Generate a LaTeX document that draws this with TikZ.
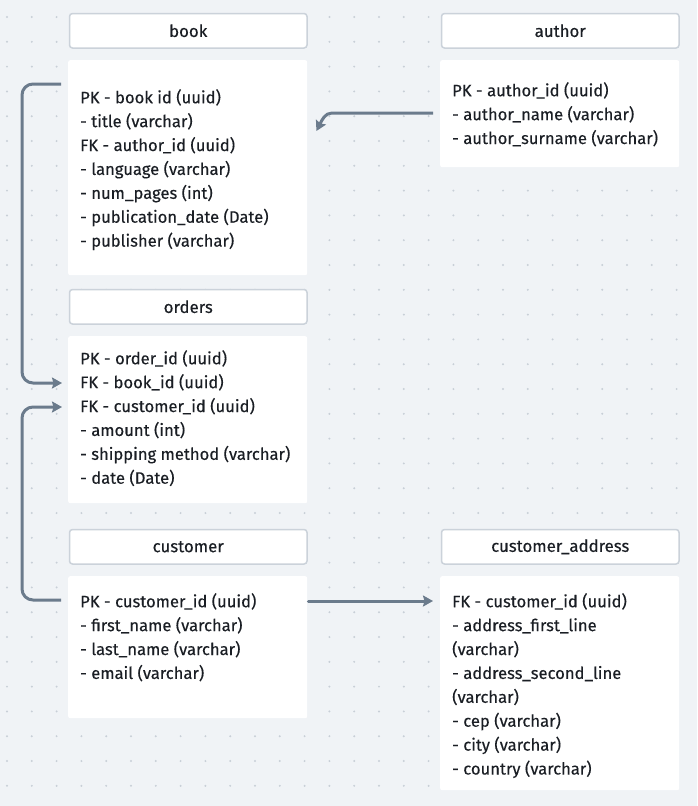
\documentclass[tikz,border=0pt]{standalone}
\usepackage{fontspec}
\setmainfont{Fira Sans}[FakeBold=0.3]
\usetikzlibrary{arrows.meta,calc}
\definecolor{bgcol}{HTML}{F0F3F6}
\definecolor{dotcol}{HTML}{C8CFD7}
\definecolor{hdrline}{HTML}{CBD2DA}
\definecolor{conncol}{HTML}{6B7B8C}
\definecolor{txtcol}{HTML}{1A1E24}
\begin{document}
\begin{tikzpicture}[x=1pt,y=-1pt,
  hdr/.style={draw=hdrline, line width=1.5pt, fill=white, rounded corners=3pt,
    minimum width=237.5pt, minimum height=34.5pt, anchor=north west, inner sep=0pt,
    font=\fontsize{16.8}{18}\selectfont, text=txtcol},
  tblbody/.style={fill=white, rounded corners=2pt, minimum width=239pt,
    anchor=north west, inner sep=0pt},
  tbllines/.style={anchor=north west, inner sep=0pt, align=left, text=txtcol,
    font=\fontsize{16.6}{23.9}\selectfont},
  connector/.style={draw=conncol, line width=3pt, rounded corners=11pt,
    -{Stealth[length=10pt,width=11pt,inset=1.5pt]}}]
\useasboundingbox (0,0) rectangle (697,806);
\fill[bgcol] (0,0) rectangle (697,806);
\foreach \i in {0,...,28}{
  \foreach \j in {0,...,32}{
    \fill[dotcol] (7+24.8*\i, 17+24.8*\j) circle (1.1pt);
  }
}
% book
\node[hdr] (bookh) at (68.75,12.75) {book};
\node[tblbody, minimum height=215pt] (bookb) at (68,60) {};
\node[tbllines] (bookt) at (80,89) {PK - book id (uuid)\\- title (varchar)\\FK - author\_id (uuid)\\- language (varchar)\\- num\_pages (int)\\- publication\_date (Date)\\- publisher (varchar)};
% author
\node[hdr] (authh) at (440.75,12.75) {author};
\node[tblbody, minimum height=107pt] (authb) at (440,60) {};
\node[tbllines] (autht) at (452,82) {PK - author\_id (uuid)\\- author\_name (varchar)\\- author\_surname (varchar)};
% orders
\node[hdr] (ordh) at (68.75,288.75) {orders};
\node[tblbody, minimum height=167pt] (ordb) at (68,336) {};
\node[tbllines] (ordt) at (80,350) {PK - order\_id (uuid)\\FK - book\_id (uuid)\\FK - customer\_id (uuid)\\- amount (int)\\- shipping method (varchar)\\- date (Date)};
% customer
\node[hdr] (custh) at (68.75,528.75) {customer};
\node[tblbody, minimum height=142pt] (custb) at (68,576) {};
\node[tbllines] (custt) at (80,593) {PK - customer\_id (uuid)\\- first\_name (varchar)\\- last\_name (varchar)\\- email (varchar)};
% customer_address
\node[hdr] (addrh) at (440.75,528.75) {customer\_address};
\node[tblbody, minimum height=214pt] (addrb) at (440,576) {};
\node[tbllines] (addrt) at (452,593) {FK - customer\_id (uuid)\\- address\_first\_line\\(varchar)\\- address\_second\_line\\(varchar)\\- cep (varchar)\\- city (varchar)\\- country (varchar)};
% connectors
\draw[connector] ($(bookb.north west)+(-7,24)$) -- (22,84) -- (22,383) -- ($(ordb.north west)+(-6,47)$);
\draw[connector] ($(custb.north west)+(-7,24)$) -- (22,600) -- (22,407) -- ($(ordb.north west)+(-6,71)$);
\draw[connector, rounded corners=0pt] ($(authb.north west)+(-7,53)$) -- (332,113) .. controls (325,113) and (322,120) .. ($(bookb.north east)+(9,71)$);
\draw[connector, line cap=round] ($(custb.north east)+(1,25)$) -- ($(addrb.north west)+(-7,25)$);
\end{tikzpicture}
\end{document}
